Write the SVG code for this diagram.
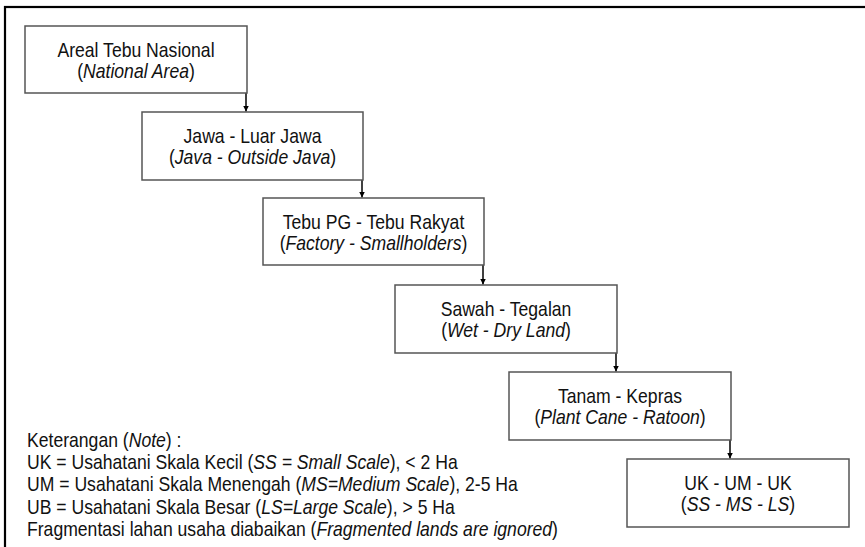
<svg xmlns="http://www.w3.org/2000/svg" width="865" height="547" viewBox="0 0 865 547">
<defs>
<marker id="ah" markerUnits="userSpaceOnUse" markerWidth="6" markerHeight="7" refX="6" refY="3" orient="auto">
<path d="M0,0 L6,3 L0,6 z" fill="#000"/>
</marker>
<style>
.box{fill:#fff;stroke:#555;stroke-width:1.5}
.t{font-family:"Liberation Sans",Arial,sans-serif;font-size:20px;fill:#111}
.c{text-anchor:middle}
.i{font-style:italic}
.arr{stroke:#000;stroke-width:1.5;fill:none;marker-end:url(#ah)}
</style>
</defs>
<rect x="0" y="0" width="865" height="547" fill="#fff"/>
<rect x="5" y="7" width="900" height="600" fill="none" stroke="#000" stroke-width="2.2"/>

<g id="connectors">
<line class="arr" x1="246" y1="93" x2="246" y2="111.5"/>
<line class="arr" x1="362" y1="180" x2="362" y2="197.5"/>
<line class="arr" x1="483" y1="265" x2="483" y2="284.5"/>
<line class="arr" x1="616" y1="353" x2="616" y2="371.5"/>
<line class="arr" x1="730" y1="440" x2="730" y2="458.5"/>
</g>

<g id="node1">
<rect class="box" x="25" y="26" width="222" height="67"/>
<text class="t c" transform="translate(136,26) scale(0.88,1)"><tspan x="0" y="31">Areal Tebu Nasional</tspan><tspan x="0" y="52">(<tspan class="i">National Area</tspan>)</tspan></text>
</g>
<g id="node2">
<rect class="box" x="142" y="112" width="221" height="68"/>
<text class="t c" transform="translate(252.5,112) scale(0.88,1)"><tspan x="0" y="31">Jawa - Luar Jawa</tspan><tspan x="0" y="52">(<tspan class="i">Java - Outside Java</tspan>)</tspan></text>
</g>
<g id="node3">
<rect class="box" x="263" y="198" width="221" height="67"/>
<text class="t c" transform="translate(373.5,198) scale(0.88,1)"><tspan x="0" y="31">Tebu PG - Tebu Rakyat</tspan><tspan x="0" y="52">(<tspan class="i">Factory - Smallholders</tspan>)</tspan></text>
</g>
<g id="node4">
<rect class="box" x="395" y="285" width="222" height="68"/>
<text class="t c" transform="translate(506,285) scale(0.88,1)"><tspan x="0" y="31">Sawah - Tegalan</tspan><tspan x="0" y="52">(<tspan class="i">Wet - Dry Land</tspan>)</tspan></text>
</g>
<g id="node5">
<rect class="box" x="509" y="372" width="222" height="68"/>
<text class="t c" transform="translate(620,372) scale(0.88,1)"><tspan x="0" y="31">Tanam - Kepras</tspan><tspan x="0" y="52">(<tspan class="i">Plant Cane - Ratoon</tspan>)</tspan></text>
</g>
<g id="node6">
<rect class="box" x="627" y="459" width="222" height="68"/>
<text class="t c" transform="translate(738,459) scale(0.88,1)"><tspan x="0" y="31">UK - UM - UK</tspan><tspan x="0" y="52">(<tspan class="i">SS - MS - LS</tspan>)</tspan></text>
</g>

<g id="legend">
<text class="t" transform="translate(27,447) scale(0.88,1)"><tspan x="0" y="0">Keterangan (<tspan class="i">Note</tspan>) :</tspan><tspan x="0" y="22.2">UK = Usahatani Skala Kecil (<tspan class="i">SS = Small Scale</tspan>), &lt; 2 Ha</tspan><tspan x="0" y="44.5">UM = Usahatani Skala Menengah (<tspan class="i">MS=Medium Scale</tspan>), 2-5 Ha</tspan><tspan x="0" y="66.7">UB = Usahatani Skala Besar (<tspan class="i">LS=Large Scale</tspan>), &gt; 5 Ha</tspan><tspan x="0" y="89">Fragmentasi lahan usaha diabaikan (<tspan class="i">Fragmented lands are ignored</tspan>)</tspan></text>
</g>
</svg>
